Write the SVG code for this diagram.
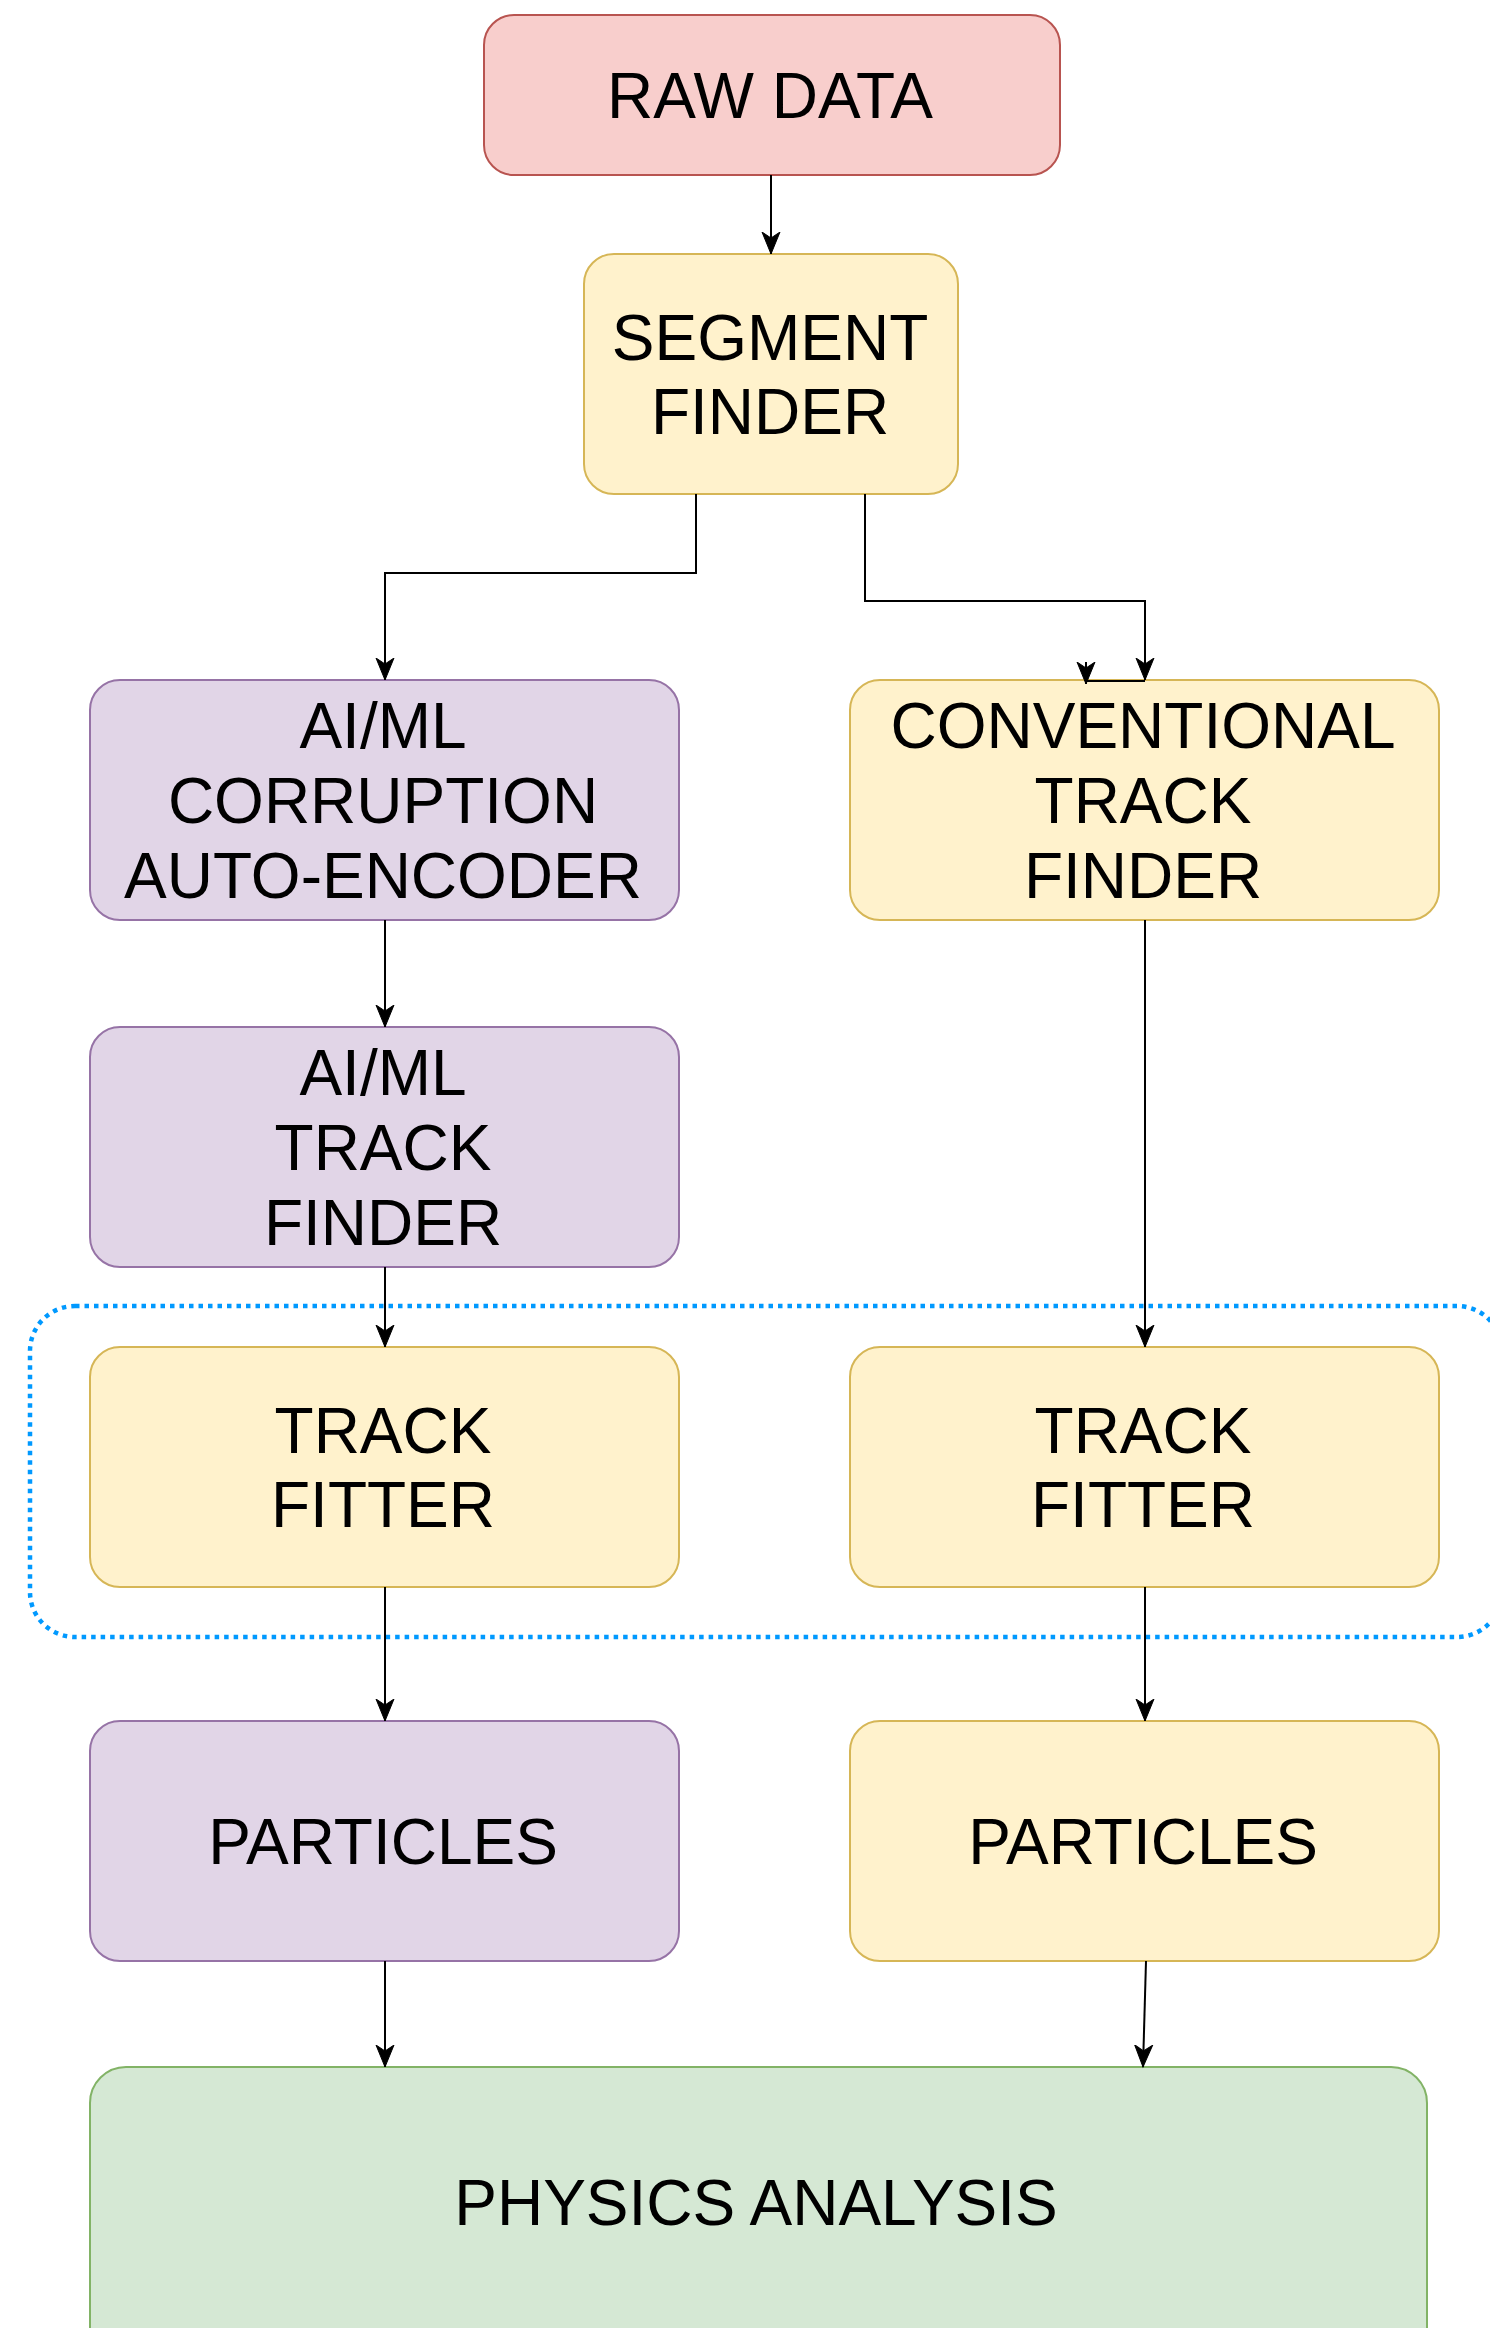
<svg xmlns="http://www.w3.org/2000/svg" width="1490" height="2328" viewBox="0 0 1490 2328">
  <style>
    .box { stroke-width: 2; }
    .red { fill: #f8cecc; stroke: #b85450; }
    .yellow { fill: #fff2cc; stroke: #d6b656; }
    .purple { fill: #e1d5e7; stroke: #9673a6; }
    .green { fill: #d5e8d4; stroke: #82b366; }
    .label { font-family: "Liberation Sans", Arial, Helvetica, sans-serif; font-size: 64px; fill: #000; text-anchor: middle; }
    .edge { fill: none; stroke: #000; stroke-width: 2; }
    .group { fill: none; stroke: #0099ff; stroke-width: 4.5; stroke-dasharray: 4.5 5; }
  </style>
  <defs>
    <marker id="arrow" viewBox="0 0 24 24" refX="22" refY="12" markerWidth="24" markerHeight="24" markerUnits="userSpaceOnUse" orient="auto">
      <path d="M0,3 L22,12 L0,21 L6,12 Z" fill="#000" stroke="#000" stroke-width="1"/>
    </marker>
  </defs>

  <!-- dotted frame around the two track fitters -->
  <rect class="group" x="30" y="1306" width="1472" height="331" rx="45" ry="45"/>

  <g id="raw-data">
    <rect class="box red" x="484" y="15" width="576" height="160" rx="30" ry="30"/>
    <text class="label" x="770" y="118">RAW DATA</text>
  </g>

  <g id="segment-finder">
    <rect class="box yellow" x="584" y="254" width="374" height="240" rx="30" ry="30"/>
    <text class="label" x="770" y="360">SEGMENT</text>
    <text class="label" x="770" y="434">FINDER</text>
  </g>

  <g id="aiml-autoencoder">
    <rect class="box purple" x="90" y="680" width="589" height="240" rx="30" ry="30"/>
    <text class="label" x="383" y="748">AI/ML</text>
    <text class="label" x="383" y="823">CORRUPTION</text>
    <text class="label" x="383" y="898">AUTO-ENCODER</text>
  </g>

  <g id="conventional-track-finder">
    <rect class="box yellow" x="850" y="680" width="589" height="240" rx="30" ry="30"/>
    <text class="label" x="1143" y="748">CONVENTIONAL</text>
    <text class="label" x="1143" y="823">TRACK</text>
    <text class="label" x="1143" y="898">FINDER</text>
  </g>

  <g id="aiml-track-finder">
    <rect class="box purple" x="90" y="1027" width="589" height="240" rx="30" ry="30"/>
    <text class="label" x="383" y="1095">AI/ML</text>
    <text class="label" x="383" y="1170">TRACK</text>
    <text class="label" x="383" y="1245">FINDER</text>
  </g>

  <g id="track-fitter-aiml">
    <rect class="box yellow" x="90" y="1347" width="589" height="240" rx="30" ry="30"/>
    <text class="label" x="383" y="1453">TRACK</text>
    <text class="label" x="383" y="1527">FITTER</text>
  </g>

  <g id="track-fitter-conventional">
    <rect class="box yellow" x="850" y="1347" width="589" height="240" rx="30" ry="30"/>
    <text class="label" x="1143" y="1453">TRACK</text>
    <text class="label" x="1143" y="1527">FITTER</text>
  </g>

  <g id="particles-aiml">
    <rect class="box purple" x="90" y="1721" width="589" height="240" rx="30" ry="30"/>
    <text class="label" x="383" y="1864">PARTICLES</text>
  </g>

  <g id="particles-conventional">
    <rect class="box yellow" x="850" y="1721" width="589" height="240" rx="30" ry="30"/>
    <text class="label" x="1143" y="1864">PARTICLES</text>
  </g>

  <g id="physics-analysis">
    <rect class="box green" x="90" y="2067" width="1337" height="320" rx="36" ry="36"/>
    <text class="label" x="756" y="2225">PHYSICS ANALYSIS</text>
  </g>

  <g id="connectors">
    <path class="edge" d="M771,175 L771,254" marker-end="url(#arrow)"/>
    <path class="edge" d="M696,494 L696,573 L385,573 L385,680" marker-end="url(#arrow)"/>
    <path class="edge" d="M865,494 L865,601 L1145,601 L1145,680" marker-end="url(#arrow)"/>
    <path class="edge" d="M1145,681 L1086,681"/>
    <path class="edge" d="M1086,662 L1086,684" marker-end="url(#arrow)"/>
    <path class="edge" d="M385,920 L385,1027" marker-end="url(#arrow)"/>
    <path class="edge" d="M385,1267 L385,1347" marker-end="url(#arrow)"/>
    <path class="edge" d="M1145,920 L1145,1347" marker-end="url(#arrow)"/>
    <path class="edge" d="M385,1587 L385,1721" marker-end="url(#arrow)"/>
    <path class="edge" d="M1145,1587 L1145,1721" marker-end="url(#arrow)"/>
    <path class="edge" d="M385,1961 L385,2067" marker-end="url(#arrow)"/>
    <path class="edge" d="M1146,1961 L1143,2067" marker-end="url(#arrow)"/>
  </g>
</svg>
